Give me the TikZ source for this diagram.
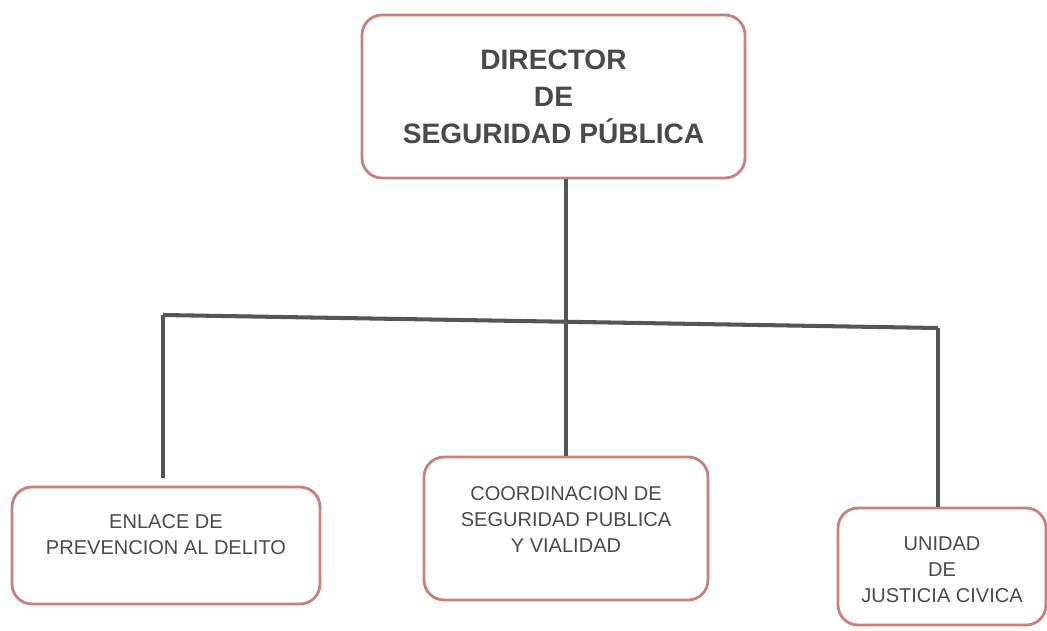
\documentclass[tikz,border=0pt]{standalone}
\usepackage{fontspec}
\setmainfont{Liberation Sans}
\definecolor{borde}{HTML}{C98078}
\definecolor{texto}{HTML}{4A4A4A}
\definecolor{linea}{HTML}{555555}
\begin{document}
\begin{tikzpicture}
\tikzset{
    caja/.style={draw=borde, line width=1.6pt, rounded corners=0.4cm, align=center, text=texto, inner sep=0pt},
    jefe/.style={caja, font=\fontsize{16}{21}\selectfont\bfseries},
    area/.style={caja, font=\fontsize{11.4}{14.8}\selectfont},
    conector/.style={draw=linea, line width=2.3pt}
}
\useasboundingbox (0,0) rectangle (20.94,12.6);
\node[area, minimum width=6.16cm, minimum height=2.34cm] (enlace) at (3.32,1.69) {ENLACE DE\\PREVENCION AL DELITO\\[-0.08cm]};
\node[jefe, minimum width=7.66cm, minimum height=3.26cm] (director) at (11.07,10.67) {DIRECTOR\\DE\\SEGURIDAD PÚBLICA};
\node[area, minimum width=5.68cm, minimum height=2.86cm] (coordinacion) at (11.32,2.03) {COORDINACION DE\\SEGURIDAD PUBLICA\\Y VIALIDAD\\[-0.16cm]};
\node[area, minimum width=4.16cm, minimum height=2.34cm] (unidad) at (18.84,1.27) {\\[-0.1cm]UNIDAD\\DE\\JUSTICIA CIVICA};
\coordinate (izq) at (3.26,6.3);
\coordinate (der) at (18.76,6.04);
% lineas
\draw[conector] (coordinacion.north) -- (coordinacion.north |- director.south);
\draw[conector] (izq) -- (der);
\draw[conector, shorten >=0.15cm] (izq) -- (izq |- enlace.north);
\draw[conector] (der) -- (der |- unidad.north);
\end{tikzpicture}
\end{document}
